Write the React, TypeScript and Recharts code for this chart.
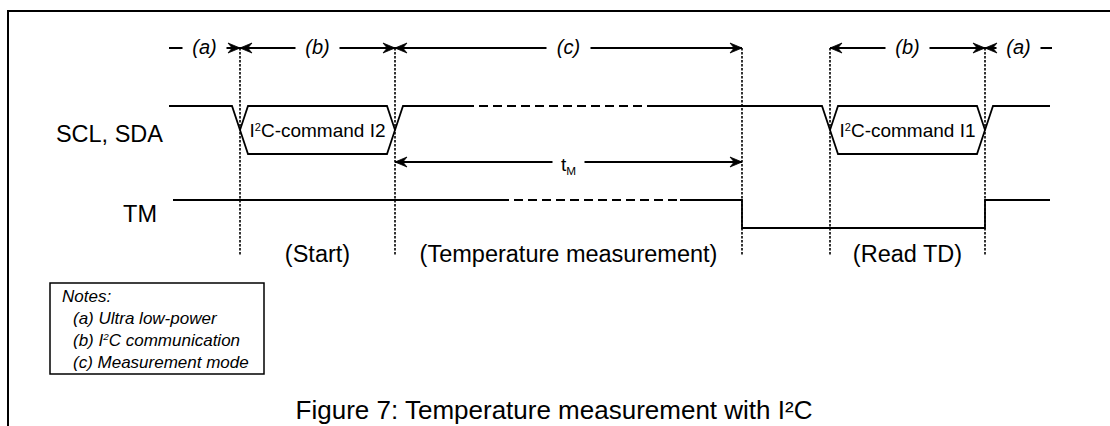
import React from 'react';
import { ComposedChart, Line, XAxis, YAxis, ReferenceArea } from 'recharts';

const W = 1110;
const H = 426;
const FONT = "'Liberation Sans', Arial, Helvetica, sans-serif";

// time axis (same unit as drawing width)
const phaseEdges = [169, 240, 395, 742, 830, 985, 1052];
const phaseNames = ['(a)', '(b)', '(c)', '', '(b)', '(a)'];
const markerTimes = [240, 395, 742, 830, 985];

// SCL / SDA bus
const sdaStart = 169;
const sdaEnd = 1050;
const sdaDashed = [465, 647];
const busStart = [240, 830];
const busEnd = [395, 985];
const busText = ['I^2C-command I2', 'I^2C-command I1'];
const edgeHalf = 8;

// TM line
const tmStart = 173;
const tmEnd = 1050;
const tmDashed = [500, 680];
const tmFall = 742;
const tmRise = 985;

const tmSpan = [395, 742];
const tmSpanText = 't_M';

const stageText = ['(Start)', '(Temperature measurement)', '(Read TD)'];
const stageFrom = [240, 395, 830];
const stageTo = [395, 742, 985];

const signalNames = ['SCL, SDA', 'TM'];
const noteLines = ['Notes:', '(a) Ultra low-power', '(b) I^2C communication', '(c) Measurement mode'];
const caption = 'Figure 7: Temperature measurement with I²C';

// layout (pixels)
const ROW_PHASE = 48;
const ROW_TM = 162;
const SDA_HI = 106;
const SDA_LO = 154;
const TM_HI = 200;
const TM_LO = 228;
const MARK_TOP = 48;
const MARK_BOTTOM = 255;
const LABEL_GAP = 22;
const TM_GAP = 16;
const NAME_X = [163, 157];
const NAME_Y = [142, 222];
const STAGE_Y = 262;
const NOTE_BOX = { x1: 50, x2: 264, y1: 283, y2: 374 };
const NOTE_X = 62;
const NOTE_INDENT = 11;
const NOTE_Y = 302;
const NOTE_STEP = 22;
const CAPTION_X = 554;
const CAPTION_Y = 419;

type P = { t: number; v: number | null; head?: 'l' | 'r'; text?: string };
const gap = (t: number): P => ({ t, v: null });

const levelDomain = (hi: number, lo: number): [number, number] => {
  const amp = lo - hi;
  const top = 1 + hi / amp;
  return [top - H / amp, top];
};

// waveforms
const sdaMain: P[] = [{ t: sdaStart, v: 1 }];
busStart.forEach((s, i) => {
  const e = busEnd[i];
  if (i > 0 && sdaDashed[0] > busEnd[i - 1] && sdaDashed[1] < s) {
    sdaMain.push({ t: sdaDashed[0], v: 1 }, gap(sdaDashed[0]), { t: sdaDashed[1], v: 1 });
  }
  sdaMain.push(
    { t: s - edgeHalf, v: 1 },
    { t: s, v: 0.5 },
    { t: s + edgeHalf, v: 0 },
    { t: e - edgeHalf, v: 0 },
    { t: e, v: 0.5 },
    { t: e + edgeHalf, v: 1 }
  );
});
sdaMain.push({ t: sdaEnd, v: 1 });

const sdaTop: P[] = busStart.flatMap((s, i) => [
  { t: s, v: 0.5 },
  { t: s + edgeHalf, v: 1 },
  { t: busEnd[i] - edgeHalf, v: 1 },
  { t: busEnd[i], v: 0.5 },
  gap(busEnd[i]),
]);
const sdaDash: P[] = [{ t: sdaDashed[0], v: 1 }, { t: sdaDashed[1], v: 1 }];

const tmMain: P[] = [
  { t: tmStart, v: 1 },
  { t: tmDashed[0], v: 1 },
  gap(tmDashed[0]),
  { t: tmDashed[1], v: 1 },
  { t: tmFall, v: 1 },
  { t: tmFall, v: 0 },
  { t: tmRise, v: 0 },
  { t: tmRise, v: 1 },
  { t: tmEnd, v: 1 },
];
const tmDash: P[] = [{ t: tmDashed[0], v: 1 }, { t: tmDashed[1], v: 1 }];

const markers: P[] = markerTimes.flatMap((t) => [{ t, v: MARK_TOP }, { t, v: MARK_BOTTOM }, gap(t)]);

// arrows + labels
const arrows: P[] = [];
const phaseLabels: P[] = [];
phaseNames.forEach((name, i) => {
  if (!name) return;
  const a = phaseEdges[i];
  const b = phaseEdges[i + 1];
  const m = (a + b) / 2;
  arrows.push(
    { t: a, v: ROW_PHASE, head: i === 0 ? undefined : 'l' },
    { t: m - LABEL_GAP, v: ROW_PHASE },
    gap(m),
    { t: m + LABEL_GAP, v: ROW_PHASE },
    { t: b, v: ROW_PHASE, head: i === phaseNames.length - 1 ? undefined : 'r' },
    gap(b)
  );
  phaseLabels.push({ t: m, v: ROW_PHASE + 6, text: name });
});
const tmMid = (tmSpan[0] + tmSpan[1]) / 2;
arrows.push(
  { t: tmSpan[0], v: ROW_TM, head: 'l' },
  { t: tmMid - TM_GAP, v: ROW_TM },
  gap(tmMid),
  { t: tmMid + TM_GAP, v: ROW_TM },
  { t: tmSpan[1], v: ROW_TM, head: 'r' }
);
const tmLabel: P[] = [{ t: tmMid, v: ROW_TM + 9, text: tmSpanText }];

const busLabels: P[] = busStart.map((s, i) => ({ t: (s + busEnd[i]) / 2, v: (SDA_HI + SDA_LO) / 2 + 7, text: busText[i] }));
const nameLabels: P[] = signalNames.map((text, i) => ({ t: NAME_X[i], v: NAME_Y[i], text }));
const stageLabels: P[] = stageText.map((text, i) => ({ t: (stageFrom[i] + stageTo[i]) / 2, v: STAGE_Y, text }));
const noteLabels: P[] = noteLines.map((text, i) => ({ t: NOTE_X + (i ? NOTE_INDENT : 0), v: NOTE_Y + i * NOTE_STEP, text }));
const captionLabel: P[] = [{ t: CAPTION_X, v: CAPTION_Y, text: caption }];

function rich(s: string, size: number) {
  const parts = s.split(/([\^_].)/).filter((p) => p !== '');
  let offset = 0;
  return parts.map((p, k) => {
    let target = 0;
    let fs = size;
    let txt = p;
    if (p.length === 2 && p[0] === '^') {
      target = -0.34 * size;
      fs = 0.58 * size;
      txt = p[1];
    } else if (p.length === 2 && p[0] === '_') {
      target = 0.22 * size;
      fs = 0.62 * size;
      txt = p[1];
    }
    const dy = target - offset;
    offset = target;
    return (
      <tspan key={k} dy={dy} fontSize={fs}>
        {txt}
      </tspan>
    );
  });
}

type TextStyle = { size: number; anchor: 'start' | 'middle' | 'end'; italic?: boolean };
const textDot = (st: TextStyle) => (props: any) => {
  const { cx, cy, payload, index } = props;
  if (cx == null || cy == null || !payload || !payload.text) return <g key={`t${index}`} />;
  return (
    <text
      key={`t${index}`}
      x={cx}
      y={cy}
      textAnchor={st.anchor}
      fontSize={st.size}
      fontStyle={st.italic ? 'italic' : 'normal'}
      fontFamily={FONT}
      fill="#000"
    >
      {rich(payload.text, st.size)}
    </text>
  );
};

const arrowDot = (props: any) => {
  const { cx, cy, payload, index } = props;
  if (cx == null || cy == null || !payload || !payload.head) return <g key={`a${index}`} />;
  const d = payload.head === 'r' ? -1 : 1;
  const L = 12;
  const w = 5;
  return (
    <path
      key={`a${index}`}
      d={`M${cx},${cy} L${cx + d * L},${cy - w} L${cx + d * L * 0.65},${cy} L${cx + d * L},${cy + w} Z`}
      fill="#000"
      stroke="#000"
      strokeWidth={0.8}
    />
  );
};

const lineProps = { dataKey: 'v', isAnimationActive: false, activeDot: false as const, legendType: 'none' as const };

export default function App() {
  return (
    <div style={{ position: 'absolute', left: 0, top: 0, width: W, height: H, background: '#fff', overflow: 'hidden' }}>
      <div
        style={{
          position: 'absolute',
          left: 7,
          top: 10,
          right: -4,
          bottom: -4,
          borderTop: '2px solid #000',
          borderLeft: '2px solid #000',
        }}
      />
      <div style={{ position: 'absolute', left: 0, top: 0 }}>
        <ComposedChart width={W} height={H} margin={{ top: 0, right: 0, bottom: 0, left: 0 }}>
          <XAxis type="number" dataKey="t" domain={[0, W]} hide />
          <YAxis yAxisId="px" type="number" domain={[0, H]} reversed hide />
          <YAxis yAxisId="sda" type="number" domain={levelDomain(SDA_HI, SDA_LO)} hide />
          <YAxis yAxisId="tm" type="number" domain={levelDomain(TM_HI, TM_LO)} hide />

          <ReferenceArea
            yAxisId="px"
            x1={NOTE_BOX.x1}
            x2={NOTE_BOX.x2}
            y1={NOTE_BOX.y1}
            y2={NOTE_BOX.y2}
            fill="#fff"
            fillOpacity={1}
            stroke="#000"
            strokeWidth={1.5}
          />

          <Line {...lineProps} yAxisId="px" data={markers} stroke="#000" strokeWidth={1.6} strokeDasharray="2.5 1.5" dot={false} />
          <Line {...lineProps} yAxisId="sda" data={sdaMain} stroke="#000" strokeWidth={1.8} dot={false} />
          <Line {...lineProps} yAxisId="sda" data={sdaTop} stroke="#000" strokeWidth={1.8} dot={false} />
          <Line {...lineProps} yAxisId="sda" data={sdaDash} stroke="#000" strokeWidth={1.8} strokeDasharray="9 5" dot={false} />
          <Line {...lineProps} yAxisId="tm" data={tmMain} stroke="#000" strokeWidth={1.8} dot={false} />
          <Line {...lineProps} yAxisId="tm" data={tmDash} stroke="#000" strokeWidth={1.8} strokeDasharray="9 5" dot={false} />
          <Line {...lineProps} yAxisId="px" data={arrows} stroke="#000" strokeWidth={1.8} dot={arrowDot} />

          <Line {...lineProps} yAxisId="px" data={phaseLabels} stroke="none" dot={textDot({ size: 20, anchor: 'middle', italic: true })} />
          <Line {...lineProps} yAxisId="px" data={tmLabel} stroke="none" dot={textDot({ size: 19, anchor: 'middle' })} />
          <Line {...lineProps} yAxisId="px" data={busLabels} stroke="none" dot={textDot({ size: 19, anchor: 'middle' })} />
          <Line {...lineProps} yAxisId="px" data={nameLabels} stroke="none" dot={textDot({ size: 23.5, anchor: 'end' })} />
          <Line {...lineProps} yAxisId="px" data={stageLabels} stroke="none" dot={textDot({ size: 23.5, anchor: 'middle' })} />
          <Line {...lineProps} yAxisId="px" data={noteLabels} stroke="none" dot={textDot({ size: 17, anchor: 'start', italic: true })} />
          <Line {...lineProps} yAxisId="px" data={captionLabel} stroke="none" dot={textDot({ size: 26, anchor: 'middle' })} />
        </ComposedChart>
      </div>
    </div>
  );
}
